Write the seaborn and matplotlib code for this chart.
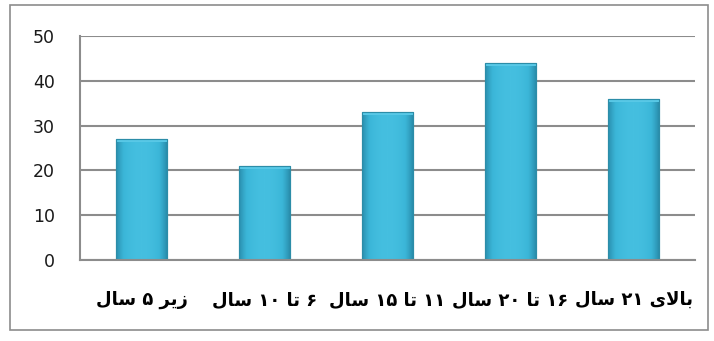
import numpy as np
import pandas as pd
import matplotlib.pyplot as plt
import seaborn as sns
from matplotlib.patches import Rectangle

# Data
categories = ['زیر ۵ سال', '۶ تا ۱۰ سال', '۱۱ تا ۱۵ سال', '۱۶ تا ۲۰ سال', 'بالای ۲۱ سال']
values = [27, 21, 33, 44, 36]
y_ticks = [0, 10, 20, 30, 40, 50]

# matplotlib has no Arabic-script shaping, so pick presentation forms and
# put the glyphs in visual (left to right) order by hand
FORMS = {
    'ب': ('\uFE8F', '\uFE90', '\uFE91', '\uFE92'),
    'ت': ('\uFE95', '\uFE96', '\uFE97', '\uFE98'),
    'س': ('\uFEB1', '\uFEB2', '\uFEB3', '\uFEB4'),
    'ل': ('\uFEDD', '\uFEDE', '\uFEDF', '\uFEE0'),
    'ی': ('\uFBFC', '\uFBFD', '\uFBFE', '\uFBFF'),
    'ا': ('\uFE8D', '\uFE8E', None, None),
    'ر': ('\uFEAD', '\uFEAE', None, None),
    'ز': ('\uFEAF', '\uFEB0', None, None),
}
DIGITS = '۰۱۲۳۴۵۶۷۸۹'


def shape_word(word):
    out = []
    prev_joins = False
    i = 0
    while i < len(word):
        c = word[i]
        if c not in FORMS:
            out.append(c)
            prev_joins = False
            i += 1
            continue
        # lam + alef ligature
        if c == 'ل' and i + 1 < len(word) and word[i + 1] == 'ا':
            out.append('\uFEFC' if prev_joins else '\uFEFB')
            prev_joins = False
            i += 2
            continue
        iso, fin, ini, med = FORMS[c]
        nxt = word[i + 1] if i + 1 < len(word) else None
        joins_next = ini is not None and nxt in FORMS
        if prev_joins and joins_next:
            g = med
        elif prev_joins:
            g = fin
        elif joins_next:
            g = ini
        else:
            g = iso
        out.append(g)
        prev_joins = ini is not None
        i += 1
    return ''.join(reversed(out))


def visual(label):
    tokens = label.split(' ')
    return ' '.join(t if t[0] in DIGITS else shape_word(t) for t in reversed(tokens))


df = pd.DataFrame({'group': categories, 'count': values})

sns.set_style('white')
plt.rcParams['font.family'] = ['DejaVu Sans']

fig = plt.figure(figsize=(7.14, 3.41), dpi=100)
ax = fig.add_axes([80 / 714, 1 - 260 / 341, 615 / 714, 224 / 341])

sns.barplot(data=df, x='group', y='count', ax=ax, width=0.41,
            color='#36AFD0', edgecolor='#2C8DA8', linewidth=0.8, saturation=1)

# soft gradient on each bar (lighter in the middle, darker at the sides)
grad = np.linspace(-1, 1, 64)
grad = 1 - np.abs(grad) ** 2
grad = np.tile(grad, (32, 1))
for bar in ax.patches:
    x0, y0 = bar.get_x(), bar.get_y()
    w, h = bar.get_width(), bar.get_height()
    im = ax.imshow(grad, extent=[x0, x0 + w, y0, y0 + h], aspect='auto',
                   cmap=sns.blend_palette(['#2A8FAE', '#3BB6D8', '#45BFE0'], as_cmap=True),
                   vmin=0, vmax=1, zorder=bar.get_zorder() + 0.1)
    im.set_clip_path(bar)
    # thin lighter bevel at the top
    cap = Rectangle((x0, y0 + h - 0.7), w, 0.7, facecolor='#58C8E6',
                    edgecolor='none', zorder=bar.get_zorder() + 0.2)
    ax.add_patch(cap)
    ax.add_patch(Rectangle((x0, y0), w, h, facecolor='none', edgecolor='#2C8DA8',
                           linewidth=0.8, zorder=bar.get_zorder() + 0.3))

ax.set_xlim(-0.5, len(categories) - 0.5)
ax.set_ylim(0, 50)
ax.set_yticks(y_ticks)
ax.set_xlabel('')
ax.set_ylabel('')

ax.grid(axis='y', color='#8C8C8C', linewidth=1.5)
ax.set_axisbelow(True)
for side in ['top', 'right']:
    ax.spines[side].set_visible(False)
for side in ['left', 'bottom']:
    ax.spines[side].set_color('#8C8C8C')
    ax.spines[side].set_linewidth(1.5)

ax.tick_params(axis='y', length=6, width=1.5, color='#8C8C8C', pad=12,
               labelsize=12.5, labelcolor='#1A1A1A')

# category labels centred under bars, tick marks on the category borders
ax.set_xticks(range(len(categories)))
ax.set_xticklabels([visual(c) for c in categories], fontsize=13,
                   fontweight='bold', color='black')
ax.tick_params(axis='x', which='major', length=0, pad=22)
ax.set_xticks(np.arange(-0.5, len(categories)), minor=True)
ax.tick_params(axis='x', which='minor', length=6, width=1.5, color='#8C8C8C')

# chart border
fig.patches.append(Rectangle((10 / 714, 1 - 330 / 341), 698 / 714, 325 / 341,
                             transform=fig.transFigure, fill=False,
                             edgecolor='#8C8C8C', linewidth=1.2))

plt.savefig('out.png', dpi=100)
